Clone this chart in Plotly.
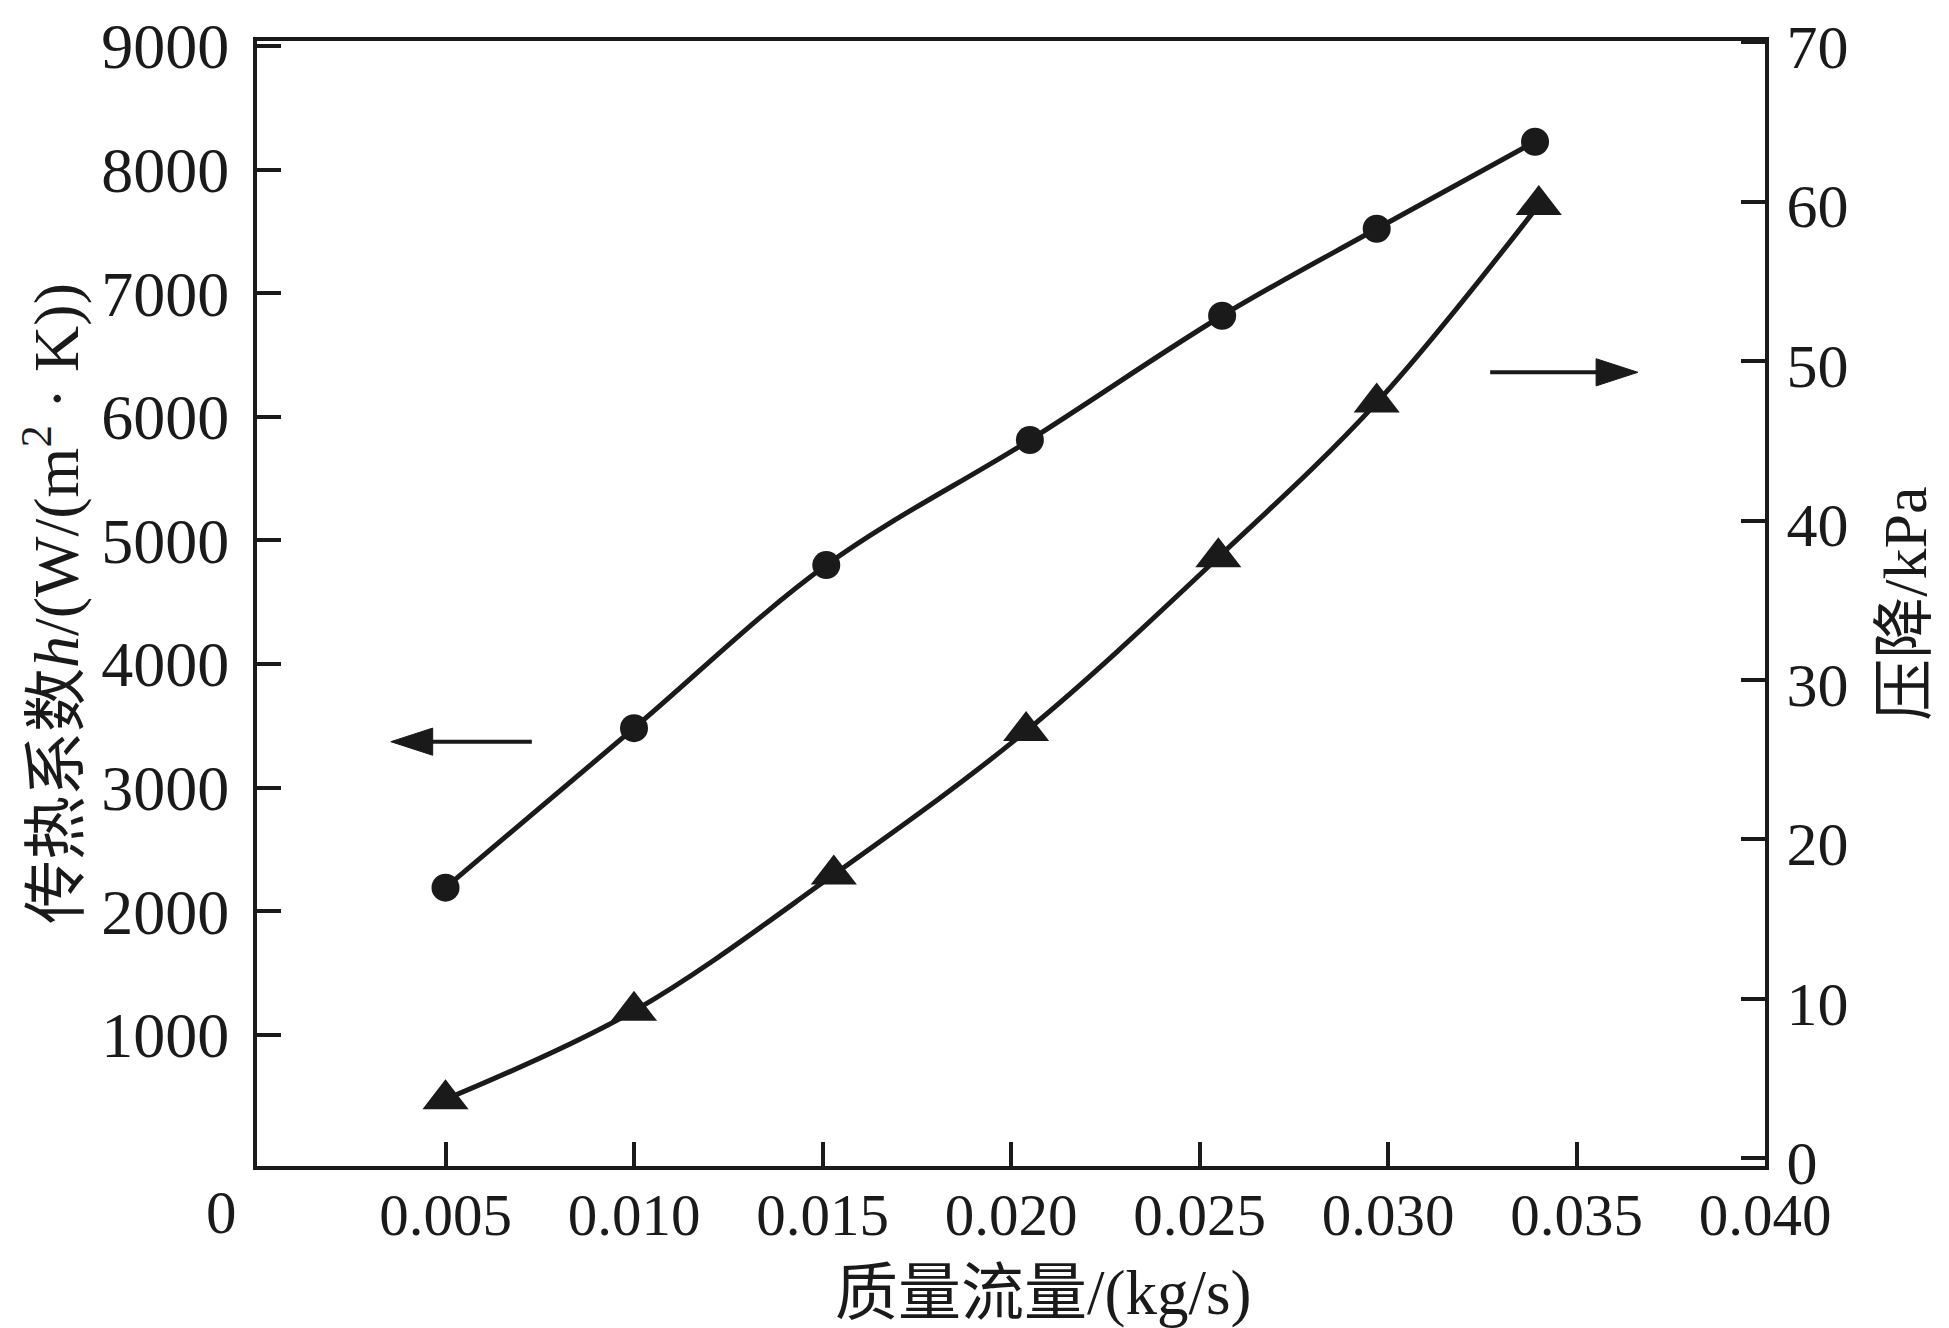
import plotly.graph_objects as go

# ---- data ----
mass_flow_h = [0.0050, 0.0100, 0.0151, 0.0205, 0.0256, 0.0297, 0.0339]
heat_transfer_coef = [2190, 3480, 4800, 5812, 6817, 7521, 8225]

mass_flow_dp = [0.0050, 0.0100, 0.0153, 0.0204, 0.0255, 0.0297, 0.0340]
pressure_drop = [3.7, 9.25, 17.8, 26.8, 37.7, 47.4, 59.8]

x_tickvals = [0.005, 0.010, 0.015, 0.020, 0.025, 0.030, 0.035, 0.040]
x_ticktext = ["0.005", "0.010", "0.015", "0.020", "0.025", "0.030", "0.035", "0.040"]
y1_tickvals = [1000, 2000, 3000, 4000, 5000, 6000, 7000, 8000, 9000]
y2_tickvals = [0, 10, 20, 30, 40, 50, 60, 70]

# axis-pointer arrows (tail -> tip)
left_arrow_x = [0.00729, 0.00355]
left_arrow_y = [3371, 3371]
right_arrow_x = [0.03271, 0.03663]
right_arrow_y = [49.3, 49.3]

INK = "#1a1a1a"
FONT = "Liberation Serif, 'Noto Sans CJK SC', serif"

fig = go.Figure()
fig.add_trace(go.Scatter(
    x=mass_flow_h, y=heat_transfer_coef, mode="lines+markers",
    line=dict(color=INK, width=5, shape="spline", smoothing=1.0),
    marker=dict(symbol="circle", size=28, color=INK),
    yaxis="y", showlegend=False,
))
fig.add_trace(go.Scatter(
    x=mass_flow_dp, y=pressure_drop, mode="lines+markers",
    line=dict(color=INK, width=5, shape="spline", smoothing=1.0),
    marker=dict(symbol="triangle-up", size=40, color=INK),
    yaxis="y2", showlegend=False,
))
for ax_x, ax_y, yax in ((left_arrow_x, left_arrow_y, "y"), (right_arrow_x, right_arrow_y, "y2")):
    fig.add_trace(go.Scatter(
        x=ax_x, y=ax_y, mode="lines+markers", yaxis=yax, showlegend=False,
        line=dict(color=INK, width=4),
        marker=dict(symbol="arrow", size=[0, 44], color=INK, opacity=1,
                    angleref="previous", line=dict(width=1, color=INK)),
        hoverinfo="skip",
    ))

axis_common = dict(
    showline=True, linecolor=INK, linewidth=4, automargin=False,
    ticks="inside", ticklen=24, tickwidth=4, tickcolor=INK,
    showgrid=False, zeroline=False, ticklabeloverflow="allow",
)

fig.update_layout(
    width=1949, height=1328,
    margin=dict(l=249, r=192, t=33, b=170),
    paper_bgcolor="white", plot_bgcolor="white",
    font=dict(family=FONT, color=INK),
    xaxis=dict(
        **axis_common, range=[0, 0.040], mirror=True,
        tickvals=x_tickvals, ticktext=x_ticktext, ticklabelstandoff=-6,
        tickfont=dict(family=FONT, size=59, color=INK),
    ),
    yaxis=dict(
        **axis_common, range=[-62, 9040],
        tickvals=y1_tickvals, ticklabelstandoff=11,
        tickfont=dict(family=FONT, size=64, color=INK),
        title=dict(text="传热系数<i>h</i>/(W/(m<sup>2</sup> · K))",
                   font=dict(family=FONT, size=64, color=INK), standoff=3),
    ),
    yaxis2=dict(
        **axis_common, range=[-0.48, 70.08], overlaying="y", side="right",
        tickvals=y2_tickvals, ticklabelstandoff=5, ticklabelshift=4,
        tickfont=dict(family=FONT, size=62, color=INK),
        title=dict(text="压降/kPa", font=dict(family=FONT, size=62, color=INK), standoff=36),
    ),
)

# x-axis title (sits slightly right of centre in the reference)
fig.add_annotation(x=0.5, y=0, xref="paper", yref="paper", text="质量流量/(kg/s)",
                   showarrow=False, xshift=32, yshift=-127, xanchor="center", yanchor="middle",
                   font=dict(family=FONT, size=63, color=INK))

# origin label "0" sits left of the corner
fig.add_annotation(x=0, y=0, xref="paper", yref="paper", text="0", showarrow=False,
                   xshift=-36, yshift=-46, yanchor="middle", xanchor="center",
                   font=dict(family=FONT, size=61, color=INK))

fig.write_html("out.html")
